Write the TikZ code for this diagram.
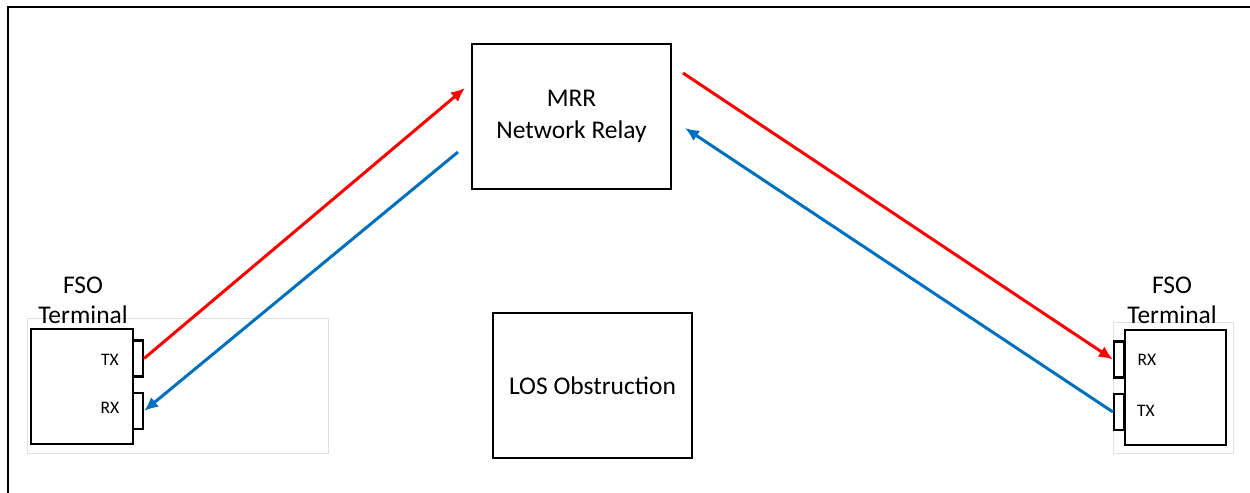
\documentclass[tikz,border=0pt]{standalone}
\usepackage{fontspec}
\setmainfont{Carlito}
\usepackage{xcolor}
\usetikzlibrary{arrows.meta,positioning}
\definecolor{fsoblue}{RGB}{0,112,192}

\begin{document}
\begin{tikzpicture}[x=0.02cm,y=-0.02cm,
	box/.style={draw,line width=1.4pt,inner sep=0pt,align=center,font=\fontsize{14.5}{18.5}\selectfont},
	caption/.style={inner sep=0pt,align=center,font=\fontsize{14.5}{17}\selectfont},
	tab/.style={draw,line width=1.2pt,inner sep=0pt,minimum width=0.2cm,minimum height=0.72cm},
	port/.style={font=\fontsize{10}{12}\selectfont},
	uplink/.style={line width=1.7pt,red,-{Latex[length=8pt,width=7pt]}},
	downlink/.style={line width=1.7pt,fsoblue,-{Latex[length=8pt,width=7pt]}}]
	\useasboundingbox (0,0) rectangle (1250,493);
	% frame
	\draw[line width=1.6pt] (8,493) -- (8,7) -- (1250,7);
	% relay and obstruction
	\node[box,minimum width=3.98cm,minimum height=2.9cm] (mrr) at (571.5,116.5) {MRR\\Network Relay};
	\node[box,minimum width=3.98cm,minimum height=2.9cm] (los) at (592.5,385.5) {LOS Obstruction};
	% left terminal
	\draw[black!12] (27,318) rectangle (328,453);
	\node[box,minimum width=2.04cm,minimum height=2.3cm] (termL) at (82,386.5) {};
	\node[tab] (txL) at (138,358.5) {};
	\node[tab] (rxL) at (138,411) {};
	\node[port] at (110,360) {TX};
	\node[port] at (110,408) {RX};
	\node[caption] (labL) at (83,300) {FSO\\Terminal};
	% right terminal
	\draw[black!12] (1113,322) rectangle (1233,453);
	\node[box,minimum width=2.02cm,minimum height=2.3cm] (termR) at (1175.5,387.5) {};
	\node[tab] (rxR) at (1119,359.5) {};
	\node[tab] (txR) at (1119,412) {};
	\node[port] at (1147,360) {RX};
	\node[port] at (1146,411) {TX};
	\node[caption] (labR) at (1172,300) {FSO\\Terminal};
	% link ends at the relay
	\coordinate (inL) at (465,88);
	\coordinate (outL) at (458,152);
	\coordinate (outR) at (683,73);
	\coordinate (inR) at (685,128);
	% links
	\draw[uplink] (txL.east) -- (inL);
	\draw[downlink] (outL) -- (rxL.east);
	\draw[uplink] (outR) -- (rxR.west);
	\draw[downlink] (txR.west) -- (inR);
\end{tikzpicture}
\end{document}
